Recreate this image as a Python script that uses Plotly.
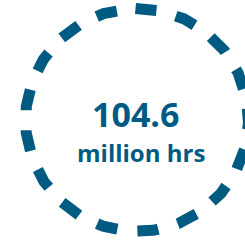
import numpy as np
import plotly.graph_objects as go

value_label = ["104.6"]
unit_label = ["million hrs"]

W, H = 245, 240
cx, cy, r = 137, 120, 111.5
color = "#005b82"

t0 = -1.5 / r
t = np.linspace(t0, t0 + 2 * np.pi, 721)
xs = cx + r * np.sin(t)
ys = cy - r * np.cos(t)
circ = 2 * np.pi * r
period = circ / 17
dash = f"{period*0.51:.2f}px,{period*0.49:.2f}px"

fig = go.Figure()
fig.add_trace(go.Scatter(x=xs, y=ys, mode="lines",
                         line=dict(color=color, width=11, dash=dash),
                         hoverinfo="skip", showlegend=False))

fig.add_annotation(x=135, y=114, text=f"<b>{value_label[0]}</b>", showarrow=False,
                   font=dict(family="Open Sans", size=34, color=color),
                   xanchor="center", yanchor="middle")
fig.add_annotation(x=141, y=152, text=f"<b>{unit_label[0]}</b>", showarrow=False,
                   font=dict(family="Open Sans", size=24, color=color),
                   xanchor="center", yanchor="middle")

fig.update_layout(width=W, height=H, margin=dict(l=0, r=0, t=0, b=0),
                  paper_bgcolor="white", plot_bgcolor="white",
                  xaxis=dict(range=[0, W], visible=False, fixedrange=True),
                  yaxis=dict(range=[H, 0], visible=False, fixedrange=True))
fig.write_html("out.html", config={"displayModeBar": False},
               post_script="document.body.style.margin='0';document.body.style.overflow='hidden';")
